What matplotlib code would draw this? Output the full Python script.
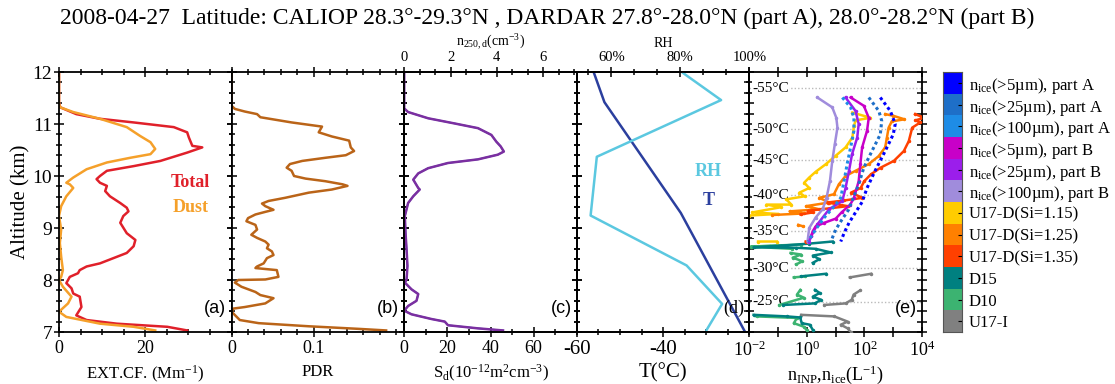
import matplotlib
matplotlib.use("Agg")
import matplotlib.pyplot as plt
from matplotlib.ticker import MultipleLocator, FixedLocator, NullFormatter, NullLocator
import matplotlib.transforms as mtrans

plt.rcParams.update({
    "font.family": "serif",
    "font.serif": ["Liberation Serif", "DejaVu Serif"],
    "mathtext.fontset": "custom",
    "mathtext.rm": "Liberation Serif",
    "mathtext.it": "Liberation Serif:italic",
    "mathtext.default": "regular",
    "axes.linewidth": 1.3,
})
nan = float("nan")

TITLE = ("2008-04-27  Latitude: CALIOP 28.3°-29.3°N , DARDAR 27.8°-28.0°N (part A), "
         "28.0°-28.2°N (part B)")

# ---- (a) extincao ----
ALT_TOT = [12.0, 11.40, 11.32, 11.19, 11.10, 11.03, 10.94, 10.84, 10.74, 10.58,
           10.55, 10.45, 10.29, 10.19, 10.10, 10.0, 9.94, 9.87, 9.81, 9.71,
           9.61, 9.48, 9.39, 9.32, 9.23, 9.10, 8.90, 8.77, 8.65, 8.52,
           8.42, 8.32, 8.26, 8.19, 8.13, 8.06, 7.94, 7.84, 7.74, 7.68,
           7.48, 7.32, 7.23, 7.16, 7.10, 7.03]
EXT_TOT = [0, 0, 0.3, 4.0, 9.5, 17.3, 26.6, 29.7, 30.1, 30.9,
           33.2, 29.7, 23.5, 17.3, 11.1, 9.5, 8.7, 9.5, 11.1, 10.7,
           11.8, 14.2, 15.7, 16.1, 14.9, 14.2, 15.7, 17.7, 17.3, 15.7,
           12.6, 9.5, 6.4, 4.8, 4.4, 2.5, 1.7, 2.9, 3.3, 4.8,
           5.2, 4.0, 6.4, 13.4, 25.1, 29.7]
ALT_DUST = [12.0, 11.39, 11.32, 11.23, 11.10, 10.94, 10.77, 10.65, 10.52, 10.42,
            10.35, 10.26, 10.13, 9.97, 9.87, 9.84, 9.77, 9.61, 9.42, 9.23,
            8.97, 8.71, 8.45, 8.19, 8.06, 8.0, 7.87, 7.68, 7.55, 7.39,
            7.29, 7.16, 7.10, 7.03]
EXT_DUST = [0, 0, 0.3, 3.3, 9.5, 15.7, 18.8, 21.2, 22.3, 21.2,
            16.5, 11.1, 6.4, 3.3, 1.7, 2.5, 3.3, 1.7, 0.5, 0,
            0.5, 0.2, 0.5, 0.9, 0.5, 0, 0.9, 2.9, 2.1, 0,
            1.7, 9.5, 17.3, 22.3]

# ---- (b) PDR ----
ALT_PDR = [12.0, 11.35, 11.29, 11.24, 11.19, 11.13, 11.03, 10.95, 10.84, 10.76,
           10.68, 10.55, 10.48, 10.40, 10.35, 10.29, 10.23, 10.16, 10.10, 10.0,
           9.95, 9.90, 9.84, 9.81, 9.74, 9.68, 9.58, 9.52, 9.47, 9.42,
           9.35, 9.31, 9.26, 9.19, 9.13, 9.06, 8.97, 8.87, 8.81, 8.74,
           8.68, 8.61, 8.55, 8.48, 8.42, 8.32, 8.26, 8.23, 8.19, 8.06,
           8.01, 8.0, 7.95, 7.87, 7.77, 7.71, 7.65, 7.55, 7.48, 7.45,
           7.39, 7.23, 7.17, 7.11, 7.06, 7.03]
PDR = [0, 0, 0.004, 0.016, 0.031, 0.035, 0.073, 0.110, 0.106, 0.122,
       0.143, 0.145, 0.149, 0.139, 0.114, 0.086, 0.071, 0.067, 0.073, 0.076,
       0.090, 0.114, 0.135, 0.141, 0.122, 0.094, 0.065, 0.045, 0.037, 0.041,
       0.051, 0.041, 0.029, 0.020, 0.018, 0.029, 0.031, 0.024, 0.031, 0.041,
       0.045, 0.043, 0.049, 0.051, 0.043, 0.039, 0.031, 0.029, 0.055, 0.057,
       0.041, 0.008, 0.004, 0.012, 0.029, 0.035, 0.051, 0.041, 0.016, 0.002,
       0, 0.010, 0.033, 0.094, 0.155, 0.188]

# ---- (c) S_d e n_250,d ----
ALT_S = [12.0, 11.30, 11.23, 11.11, 11.01, 10.92, 10.79, 10.66, 10.57, 10.47,
         10.41, 10.32, 10.25, 10.15, 10.05, 9.93, 9.77, 9.74, 9.61, 9.48,
         9.23, 8.91, 8.59, 8.27, 8.01, 7.95, 7.82, 7.73, 7.60, 7.50,
         7.41, 7.34, 7.25, 7.20, 7.13, 7.07, 7.03]
S_D = [0, 0, 1.8, 11.1, 23.4, 34.2, 40.4, 42.7, 44.7, 46.2,
       43.4, 34.2, 20.3, 11.1, 6.5, 4.2, 6.5, 7.2, 4.2, 1.8,
       0.3, 0.6, 1.1, 1.5, 1.1, 0.3, 3.4, 6.5, 5.7, 1.8,
       0, 3.4, 12.6, 18.8, 20.3, 34.2, 45.8]
N250 = [0, 0, 0.17, 1.03, 2.18, 3.18, 3.76, 3.98, 4.16, 4.30,
        4.04, 3.18, 1.89, 1.03, 0.61, 0.39, 0.61, 0.67, 0.39, 0.17,
        0.03, 0.06, 0.10, 0.14, 0.10, 0.03, 0.32, 0.61, 0.53, 0.17,
        0, 0.32, 1.17, 1.75, 1.89, 3.18, 4.26]

# ---- (d) T e RH ----
ALT_T = [12.0, 11.42, 9.29, 7.0]
TEMP = [-56.1, -53.6, -35.9, -21.0]
ALT_RH = [11.98, 11.46, 10.37, 9.24, 8.28, 7.54, 7.04]
RH = [80.8, 91.8, 55.8, 54.0, 81.8, 92.1, 87.6]

# ---- (e) n_INP, n_ice ----
T_LEVELS = [-55, -50, -45, -40, -35, -30, -25]
ALT_LEVELS = [11.69, 10.90, 10.30, 9.63, 8.94, 8.23, 7.58]

ALT_A5 = [11.51, 11.25, 11.0, 10.8, 10.48, 10.1, 9.77, 9.5, 9.30, 9.10, 8.9, 8.74]
NICE_A5 = [355, 794, 1175, 1000, 525, 234, 123, 83, 49, 29, 19.5, 15]
ALT_A25 = [11.51, 11.25, 11.06, 10.80, 10.48, 10.16, 9.84, 9.52, 9.35, 9.15, 8.97, 8.74]
NICE_A25 = [141, 316, 398, 355, 182, 95, 63, 37, 28, 16, 10, 6.8]
ALT_A100 = [11.51, 11.32, 11.12, 10.87, 10.55, 10.23, 9.90, 9.58, 9.42, 9.2, 8.97, 8.74]
NICE_A100 = [17, 33, 43, 43, 33, 25, 19.5, 15, 9, 4, 2, 1.1]
ALT_B5 = [11.51, 11.35, 11.12, 10.87, 10.55, 10.23, 9.90, 9.58, 9.45, 9.3, 9.18, 9.1, 9.03, 8.94, 8.85]
NICE_B5 = [33, 95, 141, 123, 83, 72, 63, 43, 32, 16, 10, 4, 2, 1.6, 1.4]
ALT_B25 = [11.51, 11.25, 11.0, 10.74, 10.42, 10.1, 9.77, 9.52, 9.36, 9.07, 8.84, 8.74]
NICE_B25 = [22, 49, 63, 56, 37, 29, 22, 17, 5.9, 2.3, 1.4, 1.2]
ALT_B100 = [11.51, 11.32, 11.12, 10.93, 10.61, 10.29, 9.90, 9.58, 9.36, 9.20, 9.0, 8.74]
NICE_B100 = [2.3, 7.6, 10.5, 11.5, 9.3, 7.6, 6.3, 4.8, 3.5, 2.0, 1.2, 1.05]

ALT_U115 = [11.22, 11.12, 11.07, 10.96, 10.74, 10.55, 10.39, 10.23, 10.08, 9.97,
            9.87, 9.77, 9.68, 9.61, 9.55, 9.45, 9.45, 9.40, 9.30, 9.27, 9.24,
            nan, 8.74, 8.74]
INP_U115 = [38, 162, 49, 43, 38, 22, 10, 4.6, 2.0, 1.2,
            0.8, 1.2, 0.55, 0.83, 0.19, 0.29, 0.039, 0.126, 0.0126, 0.1, 0.01,
            nan, 0.02, 0.09]
ALT_U125 = [11.19, 11.16, 11.09, 11.05, 10.93, 10.74, 10.55, 10.38, 10.23, 10.10,
            10.0, 9.84, 9.65, 9.58, 9.49, 9.42, 9.36, 9.32, 9.28, 9.25,
            nan, 9.06, 9.03]
INP_U125 = [525, 977, 2455, 891, 692, 603, 525, 309, 141, 49,
            22, 12.9, 8.7, 2.7, 5.9, 0.93, 2.7, 0.25, 0.79, 0.063,
            nan, 0.5, 0.75]
ALT_U135 = [11.19, 11.12, 11.07, 11.03, 10.93, 10.67, 10.48, 10.29, 10.16, 10.03,
            9.90, 9.77, 9.68, 9.58, 9.53, 9.49, 9.42, 9.36, 9.33, 9.30, 9.26,
            nan, 8.74, 8.73]
INP_U135 = [5750, 12000, 5900, 8700, 4570, 3470, 2340, 1050, 363, 166,
            98, 74, 34, 85, 20, 5.2, 26, 3.1, 1.07, 1.6, 0.6,
            nan, 0.9, 1.1]
ALT_D15 = [8.74, 8.70, 8.66, 8.63, 8.62, 8.60, 8.53, 8.47, 8.40, 8.33,
           nan, 8.07, 8.12,
           nan, 7.81, 7.75, 7.68, 7.62, 7.55, 7.52,
           nan, 7.33, 7.30, 7.28, 7.17, 7.14, 7.04]
INP_D15 = [7.8, 1.2, 0.126, 0.014, 0.42, 2.0, 6.8, 1.6, 2.7, 1.6,
           nan, 0.63, 4.6,
           nan, 1.9, 2.8, 1.6, 3.1, 1.9, 0.15,
           nan, 0.014, 0.2, 0.58, 0.66, 1.26, 1.6]
ALT_D10 = [8.68, 8.66, 8.64, 8.60,
           nan, 8.52, 8.49, 8.43, 8.36, 8.30,
           nan, 8.05, 8.07,
           nan, 7.81, 7.72, 7.66, 7.52,
           nan, 7.30, 7.27, 7.17, 7.10, 7.03]
INP_D10 = [0.6, 0.05, 0.011, 0.3,
           nan, 0.27, 0.63, 0.32, 0.7, 0.42,
           nan, 0.35, 0.87,
           nan, 0.59, 0.45, 0.78, 0.11,
           nan, 0.018, 0.45, 0.35, 0.8, 1.0]
ALT_U17I = [8.05, 8.12,
            nan, 7.52, 7.55, 7.62, 7.72, 7.80,
            nan, 7.33, 7.30, 7.20, 7.14, 7.07, 7.0]
INP_U17I = [31, 170,
            nan, 4, 22, 36, 42, 71,
            nan, 0.63, 8.9, 26, 15, 26, 33]

LEG_LABELS = [r"n$_{ice}$(>5µm), part A", r"n$_{ice}$(>25µm), part A",
              r"n$_{ice}$(>100µm), part A", r"n$_{ice}$(>5µm), part B",
              r"n$_{ice}$(>25µm), part B", r"n$_{ice}$(>100µm), part B",
              "U17-D(Si=1.15)", "U17-D(Si=1.25)", "U17-D(Si=1.35)",
              "D15", "D10", "U17-I"]
LEG_COLORS = ["#0000FF", "#1E6FC8", "#1E8CE6", "#C800C8", "#9B1EEB", "#A08CDC",
              "#FFCC00", "#FF8000", "#FF4000", "#008080", "#3CB371", "#808080"]

# ---- layout ----
fig = plt.figure(figsize=(11.15, 3.84), dpi=100)
L0, PW = 59 / 1115, 172.6 / 1115
B0, H0 = 1 - 332 / 384, 260 / 384
axs = [fig.add_axes([L0 + i * PW, B0, PW, H0]) for i in range(5)]


def estilo(ax, top=True):
    ax.set_ylim(7, 12)
    ax.yaxis.set_major_locator(MultipleLocator(1))
    ax.yaxis.set_minor_locator(MultipleLocator(0.2))
    ax.tick_params(which="both", direction="inout", right=True, top=top, width=1.1)
    ax.tick_params(which="major", length=7, pad=2.5, labelsize=13)
    ax.tick_params(which="minor", length=5)
    ax.tick_params(axis="y", labelleft=False, pad=1.5)


def letra(ax, s, fam="Liberation Sans"):
    ax.text(0.97, 0.09, s, transform=ax.transAxes, ha="right", va="center",
            family=fam, fontsize=13)


# (a)
ax = axs[0]
estilo(ax)
ax.plot(EXT_TOT, ALT_TOT, color="#E0202A", lw=1.8)
ax.plot(EXT_DUST, ALT_DUST, color="#F5A02A", lw=1.8)
ax.set_xlim(0, 40)
ax.xaxis.set_major_locator(FixedLocator([0, 20]))
ax.xaxis.set_minor_locator(MultipleLocator(5))
ax.tick_params(axis="y", labelleft=True, labelsize=14)
ax.set_ylabel("Altitude (km)", fontsize=15, labelpad=1)
ax.set_xlabel(r"EXT.CF. (Mm$^{-1}$)", fontsize=12, labelpad=5)
ax.text(30.5, 9.87, "Total", color="#E0202A", fontsize=13, fontweight="bold", ha="center", va="center")
ax.text(30.5, 9.39, "Dust", color="#F5A02A", fontsize=13, fontweight="bold", ha="center", va="center")
letra(ax, "(a)")

# (b)
ax = axs[1]
estilo(ax)
ax.plot(PDR, ALT_PDR, color="#BA6418", lw=1.8)
ax.set_xlim(0, 0.21)
ax.xaxis.set_major_locator(FixedLocator([0, 0.1]))
ax.xaxis.set_minor_locator(MultipleLocator(0.02))
ax.set_xticklabels(["0", "0.1"])
ax.set_xlabel("PDR", fontsize=12, labelpad=5)
letra(ax, "(b)")

# (c)
ax = axs[2]
estilo(ax, top=False)
axt = ax.twiny()
axt.plot(N250, ALT_S, color="#3A6FD8", lw=1.2)
ax.plot(S_D, ALT_S, color="#7B2FA0", lw=1.8)
ax.set_zorder(axt.get_zorder() + 1)
ax.patch.set_visible(False)
ax.set_xlim(0, 80)
ax.xaxis.set_major_locator(FixedLocator([0, 20, 40, 60]))
ax.xaxis.set_minor_locator(MultipleLocator(10))
ax.set_xlabel(r"S$_d$(10$^{-12}$m$^2$cm$^{-3}$)", fontsize=12, labelpad=4)
axt.set_xlim(0, 7.45)
axt.set_ylim(7, 12)
axt.xaxis.set_major_locator(FixedLocator([0, 2, 4, 6]))
axt.xaxis.set_minor_locator(MultipleLocator(2 / 3))
axt.tick_params(which="both", direction="inout", top=True, bottom=False, width=1.1)
axt.tick_params(which="major", length=7, pad=2, labelsize=10.5)
axt.tick_params(which="minor", length=5)
axt.set_xlabel(r"n$_{250,d}$(cm$^{-3}$)", fontsize=10, labelpad=4)
letra(ax, "(c)")

# (d)
ax = axs[3]
estilo(ax, top=False)
axr = ax.twiny()
ax.plot(TEMP, ALT_T, color="#2B3F9E", lw=1.8)
axr.plot(RH, ALT_RH, color="#5BC8E0", lw=1.8)
ax.set_xlim(-60, -20)
ax.xaxis.set_major_locator(FixedLocator([-60, -40]))
ax.xaxis.set_minor_locator(MultipleLocator(5))
ax.set_xticklabels(["-60", "-40"])
ax.tick_params(axis="x", labelsize=15)
ax.set_xlabel("T(°C)", fontsize=15, labelpad=3)
axr.set_xlim(50, 100)
axr.set_ylim(7, 12)
axr.xaxis.set_major_locator(FixedLocator([60, 80, 100]))
axr.xaxis.set_minor_locator(MultipleLocator(20 / 3))
axr.set_xticklabels(["60%", "80%", "100%"])
axr.tick_params(which="both", direction="inout", top=True, bottom=False, width=1.1)
axr.tick_params(which="major", length=7, pad=2, labelsize=10.5)
axr.tick_params(which="minor", length=5)
axr.set_xlabel("RH", fontsize=10, labelpad=3)
ax.text(-29.5, 10.08, "RH", color="#5BC8E0", fontsize=13, fontweight="bold", ha="center", va="center")
ax.text(-29.5, 9.53, "T", color="#2B3F9E", fontsize=13, fontweight="bold", ha="center", va="center")
letra(ax, "(d)", fam="Liberation Serif")

# (e)
ax = axs[4]
estilo(ax)
ax.set_xscale("log")
ax.set_xlim(1e-2, 1e4)
ax.xaxis.set_major_locator(FixedLocator([1e-2, 1e0, 1e2, 1e4]))
ax.xaxis.set_minor_locator(FixedLocator([1e-1, 1e1, 1e3]))
ax.xaxis.set_minor_formatter(NullFormatter())
ax.tick_params(which="minor", length=7)
trans = mtrans.blended_transform_factory(ax.transAxes, ax.transData)
for t, a in zip(T_LEVELS, ALT_LEVELS):
    ax.plot([0, 1], [a, a], transform=trans, color="#BBBBBB", lw=1, ls=(0, (1, 1.5)), zorder=1)
    ax.text(0.015, a, f"-{abs(t)}°C", transform=trans, fontsize=11, ha="left", va="center",
            zorder=2, bbox=dict(facecolor="white", edgecolor="none", pad=0.3))
for alt, v, c in [(ALT_U17I, INP_U17I, LEG_COLORS[11]), (ALT_D10, INP_D10, LEG_COLORS[10]),
                  (ALT_D15, INP_D15, LEG_COLORS[9]), (ALT_U115, INP_U115, LEG_COLORS[6]),
                  (ALT_U125, INP_U125, LEG_COLORS[7]), (ALT_U135, INP_U135, LEG_COLORS[8]),
                  (ALT_B100, NICE_B100, LEG_COLORS[5]), (ALT_B25, NICE_B25, LEG_COLORS[4]),
                  (ALT_B5, NICE_B5, LEG_COLORS[3])]:
    ax.plot(v, alt, color=c, lw=1.8, zorder=3, marker="o", markersize=1.5)
for alt, v, c in [(ALT_A100, NICE_A100, LEG_COLORS[2]), (ALT_A25, NICE_A25, LEG_COLORS[1]),
                  (ALT_A5, NICE_A5, LEG_COLORS[0])]:
    ax.plot(v, alt, color=c, lw=2.2, ls=(0, (1, 1)), zorder=4)
ax.set_xlabel(r"n$_{INP}$,n$_{ice}$(L$^{-1}$)", fontsize=13, labelpad=3)
letra(ax, "(e)")

# legenda em forma de barra de cores
axl = fig.add_axes([943 / 1115, B0, 19 / 1115, H0])
axl.barh(range(len(LEG_COLORS)), [1] * len(LEG_COLORS), height=1, color=LEG_COLORS)
axl.set_xlim(0, 1)
axl.set_ylim(len(LEG_COLORS) - 0.5, -0.5)
axl.xaxis.set_major_locator(NullLocator())
axl.set_yticks(range(len(LEG_COLORS)))
axl.set_yticklabels(LEG_LABELS, fontsize=12)
axl.yaxis.tick_right()
axl.tick_params(axis="y", direction="in", length=3, pad=5)
for s in axl.spines.values():
    s.set_linewidth(0.8)
    s.set_color("#555555")

fig.text(0.491, 0.952, TITLE, ha="center", va="center", fontsize=17)

fig.savefig("out.png", dpi=100)
